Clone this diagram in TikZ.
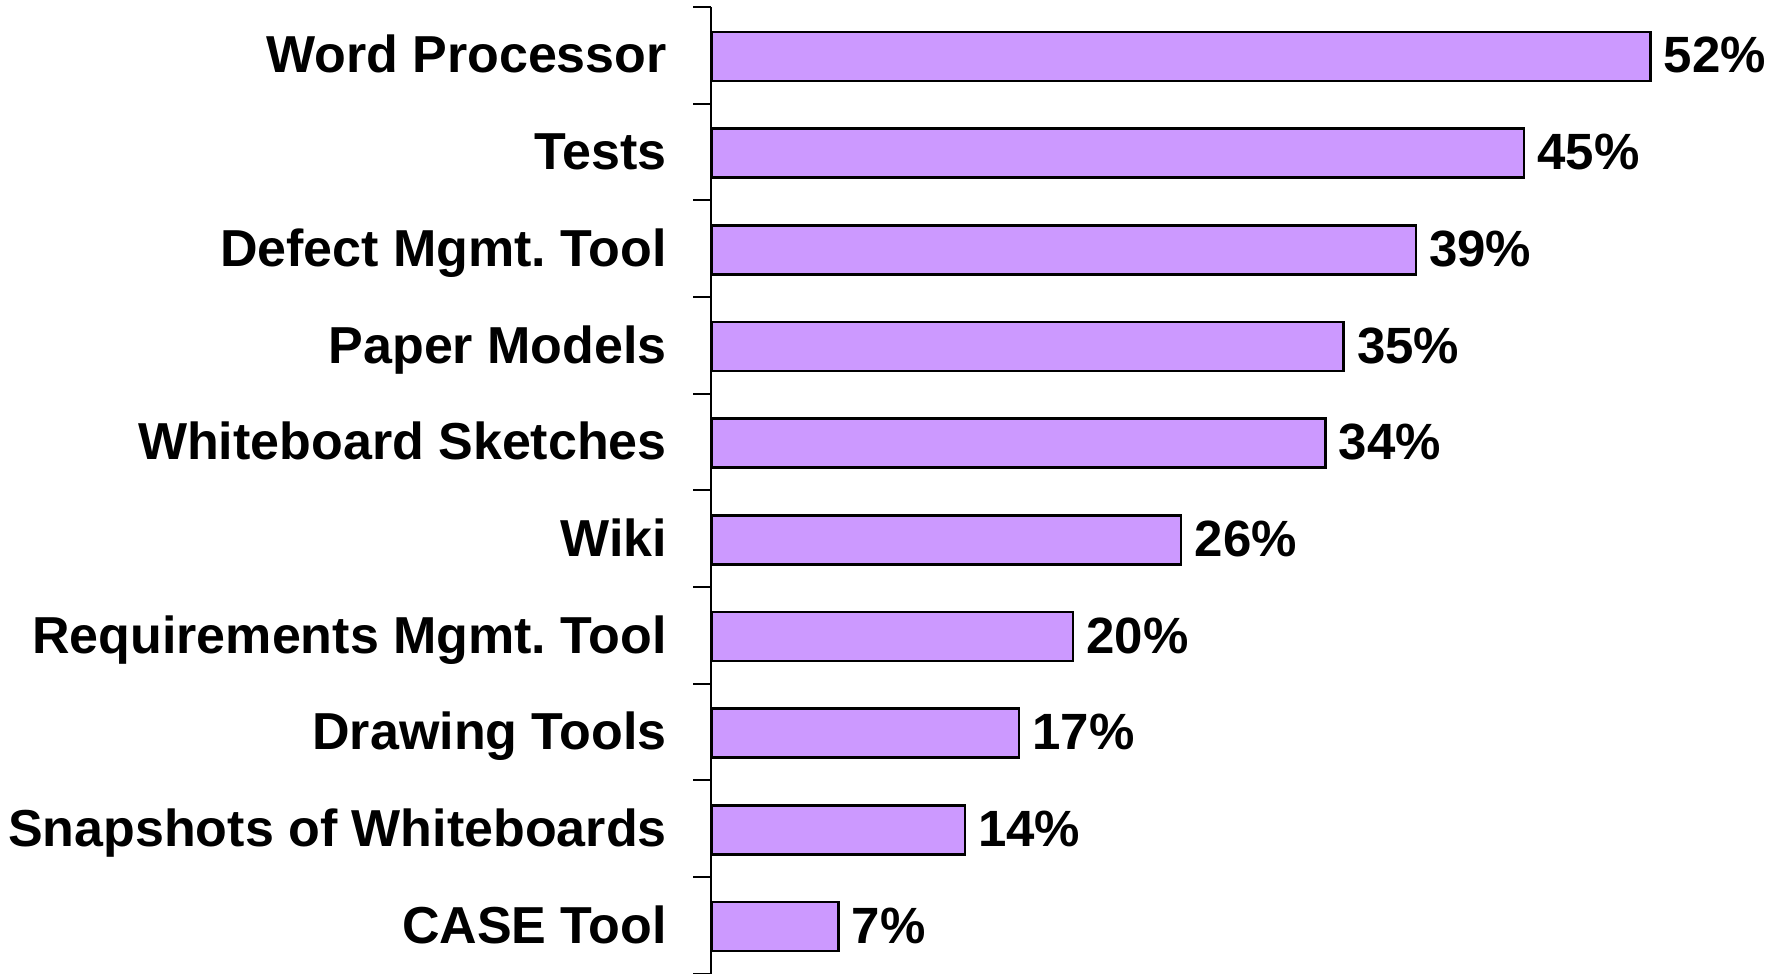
\documentclass[tikz,border=0pt]{standalone}
\usepackage{fontspec}
\setmainfont{Liberation Sans}
\definecolor{barfill}{HTML}{CC99FF}
\frenchspacing
\begin{document}
\begin{tikzpicture}[x=1pt,y=-1pt,
  bar/.style={draw=black, fill=barfill, line width=2.4pt, inner sep=0pt, minimum height=49pt, anchor=west},
  catlabel/.style={font=\fontsize{52}{60}\selectfont\bfseries, inner sep=0pt, anchor=base east},
  pctlabel/.style={font=\fontsize{51}{60}\selectfont\bfseries, inner sep=0pt, anchor=base west},
  axisline/.style={draw=black, line width=2pt},
  tickline/.style={draw=black, line width=2pt}]
\useasboundingbox (0,0) rectangle (1777,974);
\coordinate (axtop) at (711,7);
\coordinate (axbot) at (711,974);
\draw[axisline] (axtop) -- (axbot);
\foreach \k in {0,...,10} {
  \coordinate (t\k) at (711,{7+96.67*\k});
  \coordinate (tl\k) at (693,{7+96.67*\k});
  \draw[tickline] (tl\k) -- (t\k);
}
\foreach \k/\v/\name in {0/52/Word Processor,1/45/Tests,2/39/Defect Mgmt. Tool,3/35/Paper Models,4/34/Whiteboard Sketches,5/26/Wiki,6/20/Requirements Mgmt. Tool,7/17/Drawing Tools,8/14/Snapshots of Whiteboards,9/7/CASE Tool} {
  \pgfmathsetmacro{\yc}{7+96.67*\k+49.5}
  \node[bar, minimum width={18.04*\v}] (b\k) at (711,\yc) {};
  \node[pctlabel] (p\k) at ([xshift=12pt,yshift=-16.5pt]b\k.east) {\v\%};
  \node[catlabel] (c\k) at (667,{\yc+16.5}) {\name};
}
\end{tikzpicture}
\end{document}
